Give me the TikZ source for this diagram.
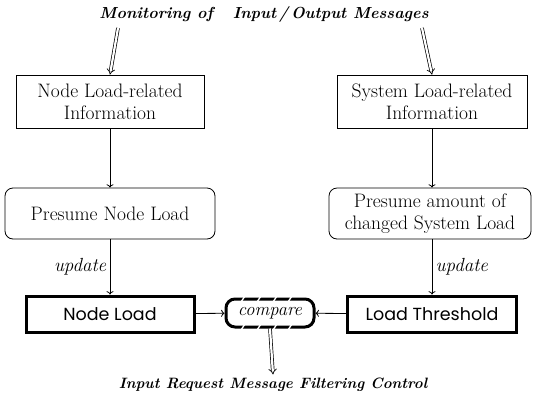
\documentclass[tikz,border=0pt]{standalone}
\usepackage{fontspec}
\newfontfamily\gothic{Poppins}
\usetikzlibrary{arrows.meta}
\tikzset{
  infobox/.style={shape=rectangle,draw=black,align=center,minimum height=53pt,font=\fontsize{19.5}{22}\selectfont},
  presbox/.style={shape=rectangle,draw=black,rounded corners=8pt,align=center,minimum height=51pt,font=\fontsize{19.5}{22}\selectfont},
  loadbox/.style={shape=rectangle,draw=black,line width=3pt,minimum height=36pt,font=\gothic\fontsize{17.5}{20}\selectfont},
  heading/.style={font=\bfseries\itshape\fontsize{16}{19}\selectfont},
  dbl/.style={double,double distance=2.2pt,line width=0.7pt,-{Implies}},
}
\begin{document}
\begin{tikzpicture}[x=1pt,y=-1pt,line width=0.8pt]
            \useasboundingbox (0,0) rectangle (534,399);
            \node[heading] (T) at (264,14) {Monitoring of\ \ \ Input\,/\,Output Messages};
            \node[heading,font=\bfseries\itshape\fontsize{15}{18}\selectfont] (U) at (273,385) {Input Request Message Filtering Control};

            \node[infobox,minimum width=188pt] (A) at (110,101.5) {Node Load-related\\Information};
            \node[presbox,minimum width=210pt] (B) at (110,213.5) {Presume Node Load};
            \node[loadbox,minimum width=168pt] (C) at (110,314) {Node Load};
            \node[infobox,minimum width=190pt] (F) at (432,101.5) {System Load-related\\Information};
            \node[presbox,minimum width=202pt] (G) at (430,213.5) {Presume amount of\\changed System Load};
            \node[loadbox,minimum width=169pt] (E) at (432,314) {Load Threshold};
            \node[shape=rectangle,draw=black,line width=3pt,rounded corners=9pt,minimum width=88pt,minimum height=28pt,font=\itshape\fontsize{18.5}{20}\selectfont] (D) at (270,313) {compare};

            % broken border of compare
            \foreach \x in {243,259,275,290} {
              \draw[white,line width=1.3pt] (\x-2,302) -- (\x+2,296);
              \draw[white,line width=1.3pt] (\x-2,330) -- (\x+2,324);
            }

            \coordinate (m1) at (118,28);
            \coordinate (m2) at (422,28);
            \draw[dbl] (m1) -- (A.north);
            \draw[dbl] (m2) -- (F.north);
            \draw[dbl] (D.south) -- (U.north);

            \path[->] (A) edge (B);
            \path[->] (F) edge (E.north |- G.north);
            \path[->] (B) edge node[left,font=\itshape\fontsize{19}{20}\selectfont] {update} (C);
            \path[->] (G.south -| E.north) edge node[right,font=\itshape\fontsize{19}{20}\selectfont] {update} (E);
            \path[->] (C) edge (D);
            \path[->] (E) edge (D);
        \end{tikzpicture}
\end{document}
